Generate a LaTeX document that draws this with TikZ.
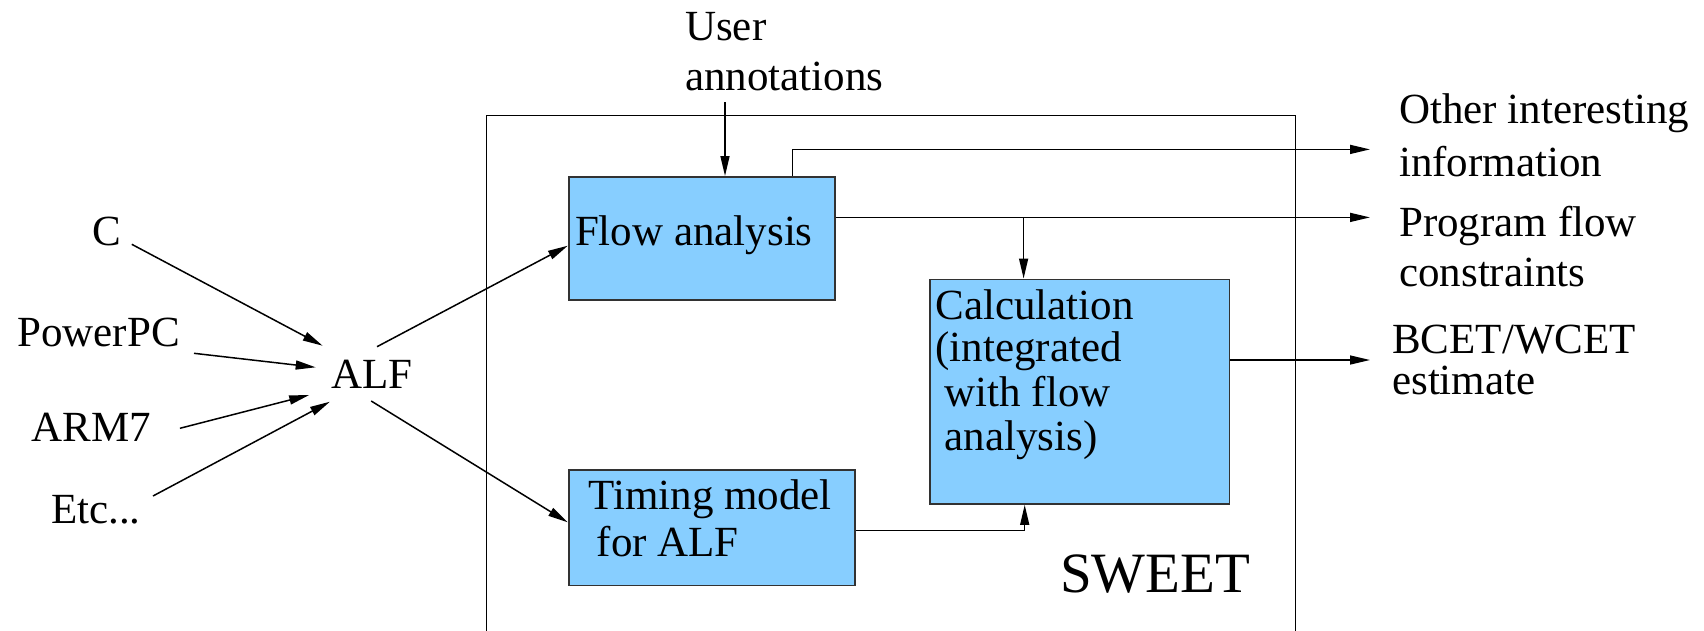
\documentclass[tikz,border=0pt]{standalone}
\usepackage{fontspec}
\setmainfont{Liberation Serif}
\usetikzlibrary{arrows.meta}
\definecolor{boxblue}{RGB}{135,206,255}
\definecolor{boxline}{RGB}{50,50,50}
\tikzset{
  txt/.style={anchor=base west, inner sep=0pt, font=\fontsize{43}{50}\selectfont},
  blk/.style={draw=boxline, fill=boxblue, line width=1.8pt, anchor=north west, inner sep=0pt},
  arr/.style={-{Triangle[length=20pt,width=9pt]}, line width=1.5pt},
  ln/.style={line width=1.5pt}
}
\begin{document}
\begin{tikzpicture}[x=1pt,y=-1pt]
\useasboundingbox (0,0) rectangle (1704,630);
% SWEET frame
\draw[ln] (486.5,640) -- (486.5,115.7) -- (1295.7,115.7) -- (1295.7,640);
\node[anchor=base west, inner sep=0pt, font=\fontsize{57}{60}\selectfont] (sweet) at (1060,592.6) {SWEET};
% boxes
\node[blk, minimum width=266pt, minimum height=123.3pt] (flow) at (567.8,176) {};
\node[blk, minimum width=299.5pt, minimum height=224.6pt] (calc) at (929,278.5) {};
\node[blk, minimum width=286.2pt, minimum height=115.7pt] (timing) at (567.8,468.9) {};
% box texts
\node[txt] (flowt) at (574.8,245) {Flow analysis};
\node[txt] (calc1) at (935.3,319.4) {Calculation};
\node[txt] (calc2) at (935.3,361) {(integrated};
\node[txt] (calc3) at (944.5,406.6) {with flow};
\node[txt] (calc4) at (944.5,450) {analysis)};
\node[txt] (tim1) at (588.4,509.4) {Timing model};
\node[txt] (tim2) at (596.5,556.4) {for ALF};
% inputs
\node[txt] (c) at (91.8,245) {C};
\node[txt] (ppc) at (17.2,346.7) {PowerPC};
\node[txt] (arm) at (31.4,441.7) {ARM7};
\node[txt] (etc) at (50.9,523.3) {Etc...};
\node[txt] (alf) at (331,388.3) {ALF};
% top
\node[txt] (user1) at (685,40) {User};
\node[txt] (user2) at (685,90.4) {annotations};
% outputs
\node[txt] (oi1) at (1399,123.3) {Other interesting};
\node[txt] (oi2) at (1399,176.7) {information};
\node[txt] (pf1) at (1399,236.7) {Program flow};
\node[txt] (pf2) at (1399,286.7) {constraints};
\node[txt] (be1) at (1392,353.3) {BCET/WCET};
\node[txt] (be2) at (1392,394) {estimate};
% coordinates
\coordinate (cS) at (131.8,244.3);
\coordinate (cE) at (322.6,345.7);
\coordinate (pS) at (194,353.3);
\coordinate (pE) at (315.7,367.3);
\coordinate (aS) at (179.9,428.3);
\coordinate (aE) at (309.2,395);
\coordinate (eS) at (153,496);
\coordinate (eE) at (329.9,401.7);
\coordinate (alfA) at (377,346.7);
\coordinate (flowIn) at (567.8,245.7);
\coordinate (alfB) at (371.2,401);
\coordinate (timIn) at (567.8,522.3);
\coordinate (ua) at (725,102);
\coordinate (fo) at (792.7,149.4);
\coordinate (oiE) at (1370,149.4);
\coordinate (pfE) at (1370,217.4);
\coordinate (br) at (1023.6,217.4);
\coordinate (beE) at (1370,360);
\coordinate (tc) at (1024.7,530.3);
% connectors
\draw[arr] (cS) -- (cE);
\draw[arr] (pS) -- (pE);
\draw[arr] (aS) -- (aE);
\draw[arr] (eS) -- (eE);
\draw[arr] (alfA) -- (flowIn);
\draw[arr] (alfB) -- (timIn);
\draw[arr] (ua) -- (ua |- flow.north);
\draw[arr] (flow.north -| fo) -- (fo) -- (oiE);
\draw[arr] (flow.east |- pfE) -- (pfE);
\draw[arr] (br) -- (br |- calc.north);
\draw[arr] (calc.east |- beE) -- (beE);
\draw[arr] (timing.east |- tc) -- (tc) -- (tc |- calc.south);
\end{tikzpicture}
\end{document}
